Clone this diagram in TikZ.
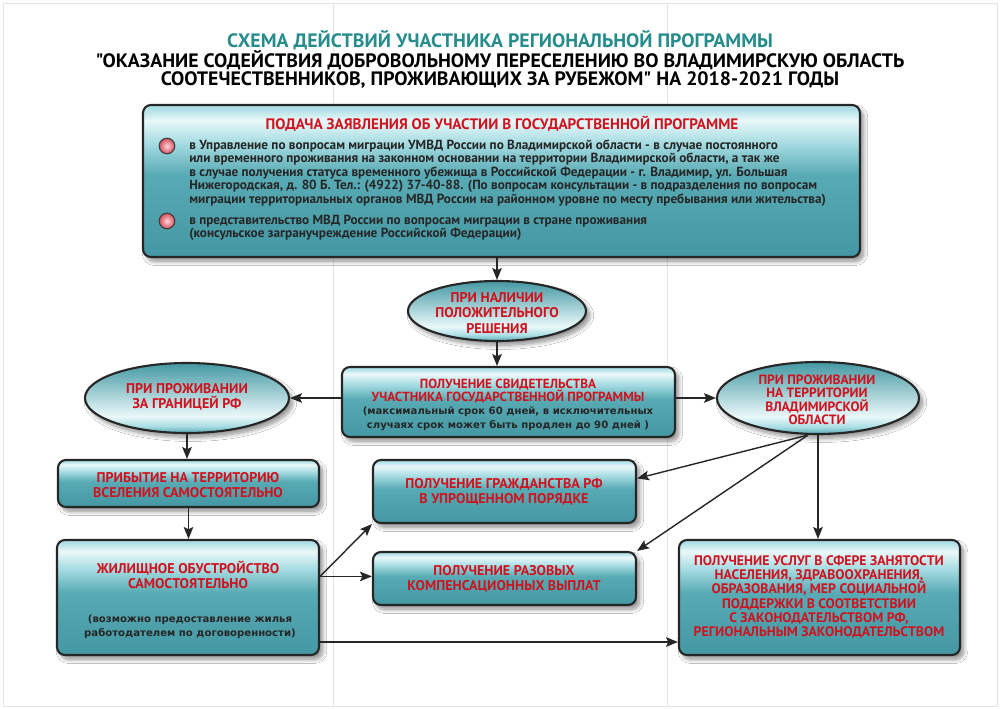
\documentclass[tikz,border=0pt]{standalone}
\usepackage{fontspec}
\setmainfont{PT Sans}
\newfontfamily\tfont{PT Sans}[FakeStretch=1.02]
\newfontfamily\vfont{DejaVu Sans}
\usetikzlibrary{shapes.geometric,arrows.meta,shadows.blur,calc}
\definecolor{tD}{RGB}{68,152,163}
\definecolor{tM}{RGB}{88,170,180}
\definecolor{tL}{RGB}{170,222,228}
\definecolor{tW}{RGB}{234,248,249}
\definecolor{rtxt}{RGB}{208,18,30}
\definecolor{ttl}{RGB}{38,140,140}
\definecolor{bulL}{RGB}{252,214,218}
\definecolor{bulD}{RGB}{214,78,94}
\pgfdeclareverticalshading{boxsh}{100bp}{color(0bp)=(tD); color(25bp)=(tD); color(52bp)=(tM); color(63bp)=(tL); color(70bp)=(tW); color(74bp)=(tL); color(75bp)=(tL); color(100bp)=(tL)}
\pgfdeclareverticalshading{ellsh}{100bp}{color(0bp)=(tM); color(25bp)=(tM); color(30bp)=(tL); color(37bp)=(tW); color(75bp)=(tD); color(100bp)=(tD)}
\tikzset{
  shd/.style={blur shadow={shadow xshift=2.5pt, shadow yshift=-3pt, shadow opacity=45, shadow blur steps=10, shadow blur radius=3pt}},
  box/.style={draw=black!85, line width=1.5pt, rounded corners=2mm, shade, shading=boxsh, shd, inner sep=0pt},
  ell/.style={ellipse, draw=black!85, line width=1.5pt, shade, shading=ellsh, shd, inner sep=0pt},
  rt/.style={text=rtxt, font=\bfseries\fontsize{10}{10.7}\selectfont, align=center, inner sep=0pt},
  bt/.style={text=black!85, font=\vfont\bfseries\fontsize{7.2}{9.8}\selectfont, align=center, inner sep=0pt},
  pt/.style={text=black!85, font=\bfseries\fontsize{9.4}{9.6}\selectfont, align=left, inner sep=0pt},
  bul/.style={circle, minimum size=3.9mm, inner sep=0pt, draw=black!75, line width=0.8pt, inner color=bulL, outer color=bulD},
  arr/.style={-{Stealth[length=3mm,width=2.4mm,inset=0.6mm]}, line width=1pt, black!85},
  ttlst/.style={font=\tfont\bfseries\fontsize{13.8}{16}\selectfont, inner sep=0pt},
}
\begin{document}
\begin{tikzpicture}[x=0.25mm, y=-0.25mm]
\useasboundingbox (0,0) rectangle (1000,709);
\fill[white] (0,0) rectangle (1000,709);
\draw[black!10, line width=0.6pt] (3,3) rectangle (997,706);
\draw[black!10, line width=0.6pt] (333,3) -- (333,706);
\draw[black!10, line width=0.6pt] (667,3) -- (667,706);

% titles
\node[ttlst, text=ttl] (t1) at (500,40) {СХЕМА ДЕЙСТВИЙ УЧАСТНИКА РЕГИОНАЛЬНОЙ ПРОГРАММЫ};
\node[ttlst, text=black] (t2) at (500,60) {"ОКАЗАНИЕ СОДЕЙСТВИЯ ДОБРОВОЛЬНОМУ ПЕРЕСЕЛЕНИЮ ВО ВЛАДИМИРСКУЮ ОБЛАСТЬ};
\node[ttlst, text=black] (t3) at (500,80) {СООТЕЧЕСТВЕННИКОВ, ПРОЖИВАЮЩИХ ЗА РУБЕЖОМ" НА 2018-2021 ГОДЫ};

% top box
\node[box, minimum width=179.25mm, minimum height=38mm] (top) at (501.5,181) {};
\node[rt, font=\bfseries\fontsize{10.8}{11}\selectfont] (hd) at (502,124) {ПОДАЧА ЗАЯВЛЕНИЯ ОБ УЧАСТИИ В ГОСУДАРСТВЕННОЙ ПРОГРАММЕ};
\node[bul] (u1) at (167,146) {};
\node[bul] (u2) at (167,221) {};
\node[pt, anchor=north west] (p1) at (189,139.5) {в Управление по вопросам миграции УМВД России по Владимирской области - в случае постоянного\\
или временного проживания на законном основании на территории Владимирской области, а так же\\
в случае получения статуса временного убежища в Российской Федерации - г. Владимир, ул. Большая\\
Нижегородская, д. 80 Б. Тел.: (4922) 37-40-88. (По вопросам консультации - в подразделения по вопросам\\
миграции территориальных органов МВД России на районном уровне по месту пребывания или жительства)};
\node[pt, anchor=north west] (p2) at (189,214.5) {в представительство МВД России по вопросам миграции в стране проживания\\
(консульское загранучреждение Российской Федерации)};

% ellipse 1
\node[ell, minimum width=44.5mm, minimum height=15mm] (e1) at (497,311) {};
\node[rt] (e1t) at (497,313) {ПРИ НАЛИЧИИ\\ПОЛОЖИТЕЛЬНОГО\\РЕШЕНИЯ};

% box 2
\node[box, minimum width=83.25mm, minimum height=17.5mm] (b2) at (508.5,402) {};
\node[rt, font=\bfseries\fontsize{9.4}{9.6}\selectfont] (b2a) at (508,391) {ПОЛУЧЕНИЕ СВИДЕТЕЛЬСТВА\\УЧАСТНИКА ГОСУДАРСТВЕННОЙ ПРОГРАММЫ};
\node[bt] (b2b) at (508,419) {(максимальный срок 60 дней, в исключительных\\случаях срок может быть продлен до 90 дней )};

% side ellipses
\node[ell, minimum width=51mm, minimum height=17.5mm] (e2) at (187,398) {};
\node[rt] (e2t) at (187,397) {ПРИ ПРОЖИВАНИИ\\ЗА ГРАНИЦЕЙ РФ};
\node[ell, minimum width=50.5mm, minimum height=18mm] (e3) at (818,398) {};
\node[rt, font=\bfseries\fontsize{9.6}{9.6}\selectfont] (e3t) at (817,400) {ПРИ ПРОЖИВАНИИ\\НА ТЕРРИТОРИИ\\ВЛАДИМИРСКОЙ\\ОБЛАСТИ};

% left column
\node[box, minimum width=65.25mm, minimum height=11.75mm] (b3) at (188.5,483.5) {};
\node[rt] (b3t) at (188,485) {ПРИБЫТИЕ НА ТЕРРИТОРИЮ\\ВСЕЛЕНИЯ САМОСТОЯТЕЛЬНО};
\node[box, minimum width=65.5mm, minimum height=28.75mm] (b4) at (188,597.5) {};
\node[rt] (b4a) at (188,575) {ЖИЛИЩНОЕ ОБУСТРОЙСТВО\\САМОСТОЯТЕЛЬНО};
\node[bt] (b4b) at (190,627) {(возможно предоставление жилья\\работодателем по договоренности)};

% middle column
\node[box, minimum width=65.75mm, minimum height=15.75mm] (b5) at (504.5,491.5) {};
\node[rt] (b5t) at (504,491.5) {ПОЛУЧЕНИЕ ГРАЖДАНСТВА РФ\\В УПРОЩЕННОМ ПОРЯДКЕ};
\node[box, minimum width=65.75mm, minimum height=13.25mm] (b6) at (504.5,578.5) {};
\node[rt] (b6t) at (504,578.5) {ПОЛУЧЕНИЕ РАЗОВЫХ\\КОМПЕНСАЦИОННЫХ ВЫПЛАТ};

% right box
\node[box, minimum width=70.25mm, minimum height=28.75mm] (b7) at (819.5,597.5) {};
\node[rt, font=\bfseries\fontsize{9.8}{10.2}\selectfont] (b7t) at (819,597) {ПОЛУЧЕНИЕ УСЛУГ В СФЕРЕ ЗАНЯТОСТИ\\НАСЕЛЕНИЯ, ЗДРАВООХРАНЕНИЯ,\\ОБРАЗОВАНИЯ, МЕР СОЦИАЛЬНОЙ\\ПОДДЕРЖКИ В СООТВЕТСТВИИ\\С ЗАКОНОДАТЕЛЬСТВОМ РФ,\\РЕГИОНАЛЬНЫМ ЗАКОНОДАТЕЛЬСТВОМ};

% connectors
\draw[arr] (top.south -| e1.north) -- (e1.north);
\draw[arr] (e1.south) -- (e1.south |- b2.north);
\draw[arr] (b2.west |- e2.east) -- (e2.east);
\draw[arr] (b2.east |- e3.west) -- (e3.west);
\draw[arr] (e2.south) -- (e2.south |- b3.north);
\draw[arr] (b3.south) -- (b3.south |- b4.north);
\coordinate (b4o) at ($(b4.north east)!0.32!(b4.south east)$);
\coordinate (b4d) at ($(b4.north east)!0.88!(b4.south east)$);
\draw[arr] (b4o) -- (b5.south west);
\draw[arr] (b4o) -- (b4o -| b6.west);
\draw[arr] (b4d) -- (b4d -| b7.west);
\coordinate (e3o) at ($(e3.south)+(-10,0)$);
\coordinate (b5r) at ($(b5.north east)!0.3!(b5.south east)$);
\draw[arr] (e3o) -- (b5r);
\draw[arr] (e3o) -- (b6.north east);
\draw[arr] (e3.south) -- (e3.south |- b7.north);
\end{tikzpicture}
\end{document}
